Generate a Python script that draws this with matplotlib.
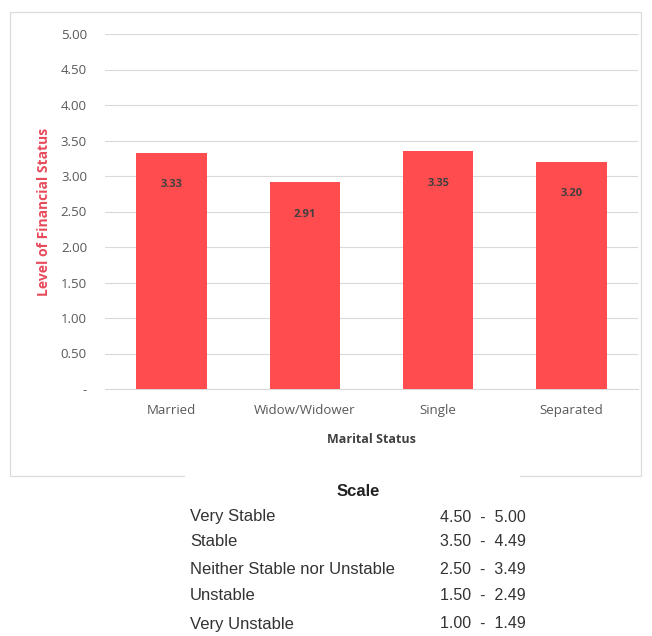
import matplotlib.pyplot as plt
from matplotlib.patches import Rectangle

categories = ["Married", "Widow/Widower", "Single", "Separated"]
values = [3.33, 2.91, 3.35, 3.20]
y_ticks = [0.0, 0.5, 1.0, 1.5, 2.0, 2.5, 3.0, 3.5, 4.0, 4.5, 5.0]

scale_labels = ["Very Stable", "Stable", "Neither Stable nor Unstable",
                "Unstable", "Very Unstable"]
scale_ranges = ["4.50 - 5.00", "3.50 - 4.49", "2.50 - 3.49",
                "1.50 - 2.49", "1.00 - 1.49"]

BAR = "#ff4d4f"
LABEL_RED = "#e84a5a"
GREY = "#595959"
W, H = 652, 636

fig = plt.figure(figsize=(W / 100, H / 100), dpi=100)

# chart frame, with the scale table pasted over its bottom edge
fig.patches.append(Rectangle((10 / W, 1 - 476 / H), 631 / W, 464 / H,
                             transform=fig.transFigure, fill=False,
                             edgecolor="#dcdcdc", linewidth=0.9))
fig.patches.append(Rectangle((185 / W, 1 - 636 / H), 335 / W, 164 / H,
                             transform=fig.transFigure, facecolor="white",
                             edgecolor="none"))

ax = fig.add_axes([105 / W, 1 - 389 / H, 533 / W, 355 / H])
x = range(len(categories))
bars = ax.bar(x, values, width=0.53, color=BAR, zorder=3)
for rect, v in zip(bars, values):
    ax.text(rect.get_x() + rect.get_width() / 2, v - 0.45, f"{v:.2f}",
            ha="center", va="center", fontsize=8, fontweight="bold",
            color="#404040", family="Open Sans", zorder=4)

ax.set_ylim(0, 5)
ax.set_xlim(-0.5, len(categories) - 0.5)
ax.set_yticks(y_ticks)
ax.set_yticklabels(["-" if t == 0 else f"{t:.2f}" for t in y_ticks])
ax.set_xticks(list(x))
ax.set_xticklabels(categories)
ax.tick_params(axis="y", length=0, labelsize=9.5, labelcolor=GREY, pad=13)
ax.tick_params(axis="x", length=0, labelsize=9.5, labelcolor=GREY, pad=11)
for lab in ax.get_xticklabels() + ax.get_yticklabels():
    lab.set_family("Open Sans")
ax.grid(axis="y", color="#d9d9d9", linewidth=0.8, zorder=0)
for s in ["top", "right", "left"]:
    ax.spines[s].set_visible(False)
ax.spines["bottom"].set_color("#d9d9d9")

ax.set_xlabel("Marital Status", fontsize=9, color="#404040",
              family="Open Sans", fontweight="bold", labelpad=11)
ax.set_ylabel("Level of Financial Status", fontsize=10, color=LABEL_RED,
              family="Open Sans", fontweight="bold", labelpad=7)

# scale table underneath
fig.text(358 / W, 1 - 491 / H, "Scale", ha="center", va="center",
         fontsize=12, fontweight="bold", family="Liberation Sans", color="#222222")
row_y = [517, 542, 569, 596, 624]
for ry, lab, rng in zip(row_y, scale_labels, scale_ranges):
    fig.text(190 / W, 1 - ry / H, lab, ha="left", va="center",
             fontsize=12, family="Liberation Sans", color="#333333")
    fig.text(440 / W, 1 - ry / H, rng.replace(" - ", "  -  "), ha="left",
             va="center", fontsize=11.5, family="Liberation Sans",
             color="#333333")

fig.savefig("out.png", dpi=100)
